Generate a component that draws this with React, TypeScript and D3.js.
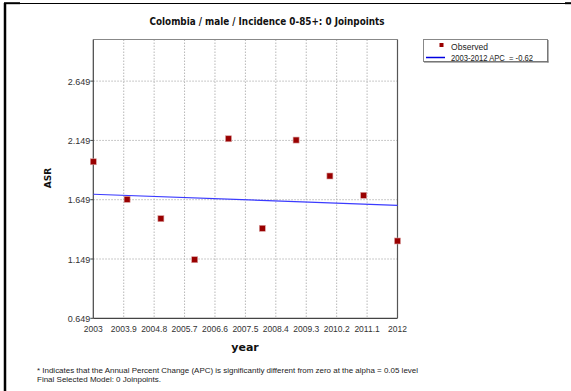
import React from "react";
import * as d3 from "d3";

const years = [2003, 2004, 2005, 2006, 2007, 2008, 2009, 2010, 2011, 2012];
const observed = [1.969, 1.652, 1.489, 1.143, 2.163, 1.408, 2.152, 1.849, 1.686, 1.301];
const fitYears = [2003, 2012];
const fitValues = [1.695, 1.602];
const xTickValues = [2003, 2003.9, 2004.8, 2005.7, 2006.6, 2007.5, 2008.4, 2009.3, 2010.2, 2011.1, 2012];
const xTickLabels = ["2003", "2003.9", "2004.8", "2005.7", "2006.6", "2007.5", "2008.4", "2009.3", "2010.2", "2011.1", "2012"];
const yTickValues = [0.649, 1.149, 1.649, 2.149, 2.649];
const yTickLabels = ["0.649", "1.149", "1.649", "2.149", "2.649"];

const title = "Colombia / male / Incidence 0-85+: 0 Joinpoints";
const legendLabels = ["Observed", "2003-2012 APC  = -0.62"];
const footnotes = [
  "* Indicates that the Annual Percent Change (APC) is significantly different from zero at the alpha = 0.05 level",
  "Final Selected Model: 0 Joinpoints.",
];

export default function App() {
  const W = 571, H = 391;
  const left = 93.3, right = 397.5, top = 39.5, bottom = 318.3;
  const x = d3.scaleLinear().domain([2003, 2012]).range([left, right]);
  const y = d3.scaleLinear().domain([0.649, 3.0]).range([bottom, top]);
  const line = d3.line<number>().x((_, i) => x(fitYears[i])).y((d) => y(d));
  const font = "'Liberation Sans', Arial, sans-serif";
  const tickColor = "#333";
  const footLengths = [381, 124];
  return (
    <svg width={W} height={H} style={{ position: "absolute", left: 0, top: 0, background: "#fff" }} fontFamily={font}>
      <rect x={0} y={0} width={W} height={H} fill="#fff" />
      {/* outer frame */}
      <line x1={5} y1={3} x2={5} y2={H} stroke="#000" strokeWidth={2.5} />
      <line x1={4} y1={3.5} x2={565} y2={3.5} stroke="#000" strokeWidth={1.2} />
      <line x1={4} y1={3.2} x2={20} y2={3.2} stroke="#000" strokeWidth={2} />
      <line x1={565} y1={3.2} x2={571} y2={3.2} stroke="#000" strokeWidth={2} />
      {/* title */}
      <text x={267} y={25} textAnchor="middle" fontFamily="Tahoma, 'DejaVu Sans', sans-serif" fontWeight="bold" fontSize={10} textLength={235} lengthAdjust="spacingAndGlyphs" fill="#111">{title}</text>
      {/* grid */}
      {xTickValues.slice(1, -1).map((v, i) => (
        <line key={"gx" + i} x1={x(v)} x2={x(v)} y1={top} y2={bottom} stroke="#b8b8b8" strokeDasharray="1.5,1.5" strokeWidth={1} />
      ))}
      {yTickValues.slice(1).map((v, i) => (
        <line key={"gy" + i} x1={left} x2={right} y1={y(v)} y2={y(v)} stroke="#b8b8b8" strokeDasharray="1.5,1.5" strokeWidth={1} />
      ))}
      {/* frame */}
      <line x1={left} x2={right} y1={top} y2={top} stroke="#888" strokeWidth={1} />
      <line x1={right} x2={right} y1={top} y2={bottom} stroke="#555" strokeWidth={1.2} />
      <line x1={left} x2={left} y1={top} y2={bottom} stroke="#444" strokeWidth={1.2} />
      <line x1={left} x2={right} y1={bottom} y2={bottom} stroke="#444" strokeWidth={1.2} />
      {/* y ticks */}
      {yTickValues.map((v, i) => (
        <g key={"yt" + i}>
          <line x1={left - 3} x2={left} y1={y(v)} y2={y(v)} stroke="#444" />
          <text x={left - 3} y={y(v) + 3.5} textAnchor="end" fontSize={9} fill={tickColor}>{yTickLabels[i]}</text>
        </g>
      ))}
      {/* x ticks */}
      {xTickValues.map((v, i) => (
        <g key={"xt" + i}>
          <text x={x(v)} y={332} textAnchor="middle" fontSize={8.5} fill={tickColor}>{xTickLabels[i]}</text>
        </g>
      ))}
      {/* axis titles */}
      <text x={245} y={351} textAnchor="middle" fontFamily="Tahoma, 'DejaVu Sans', sans-serif" fontWeight="bold" fontSize={11} fill="#111">year</text>
      <text transform={`translate(51,${178}) rotate(-90)`} textAnchor="middle" fontFamily="Tahoma, 'DejaVu Sans', sans-serif" fontWeight="bold" fontSize={9} fill="#111">ASR</text>
      {/* fitted line */}
      <path d={line(fitValues) || ""} fill="none" stroke="#3b3bff" strokeWidth={1.2} />
      {/* observed */}
      {observed.map((v, i) => (
        <rect key={"p" + i} x={x(years[i]) - 3} y={y(v) - 3} width={6} height={6} fill="#990000" stroke="#d9a0a0" strokeWidth={0.6} />
      ))}
      {/* legend */}
      <rect x={423.5} y={39.5} width={124} height={22} fill="#fff" stroke="#888" strokeWidth={1} />
      <line x1={548} x2={548} y1={40} y2={62.5} stroke="#666" strokeWidth={1} />
      <line x1={424} x2={548.5} y1={62} y2={62} stroke="#666" strokeWidth={1} />
      <rect x={439.5} y={43} width={4} height={4} fill="#990000" />
      <text x={451} y={49.5} fontSize={8.5} fill="#222" textLength={37} lengthAdjust="spacingAndGlyphs">{legendLabels[0]}</text>
      <line x1={426} x2={445} y1={57.5} y2={57.5} stroke="#0000e0" strokeWidth={1.5} />
      <text x={451} y={60.5} fontSize={8.5} fill="#222" style={{ whiteSpace: "pre" }} textLength={82} lengthAdjust="spacingAndGlyphs">{legendLabels[1]}</text>
      {/* footnotes */}
      {footnotes.map((t, i) => (
        <text key={"f" + i} x={37} y={373 + i * 8.8} fontSize={7.8} fill="#222" textLength={footLengths[i]} lengthAdjust="spacingAndGlyphs">{t}</text>
      ))}
    </svg>
  );
}
